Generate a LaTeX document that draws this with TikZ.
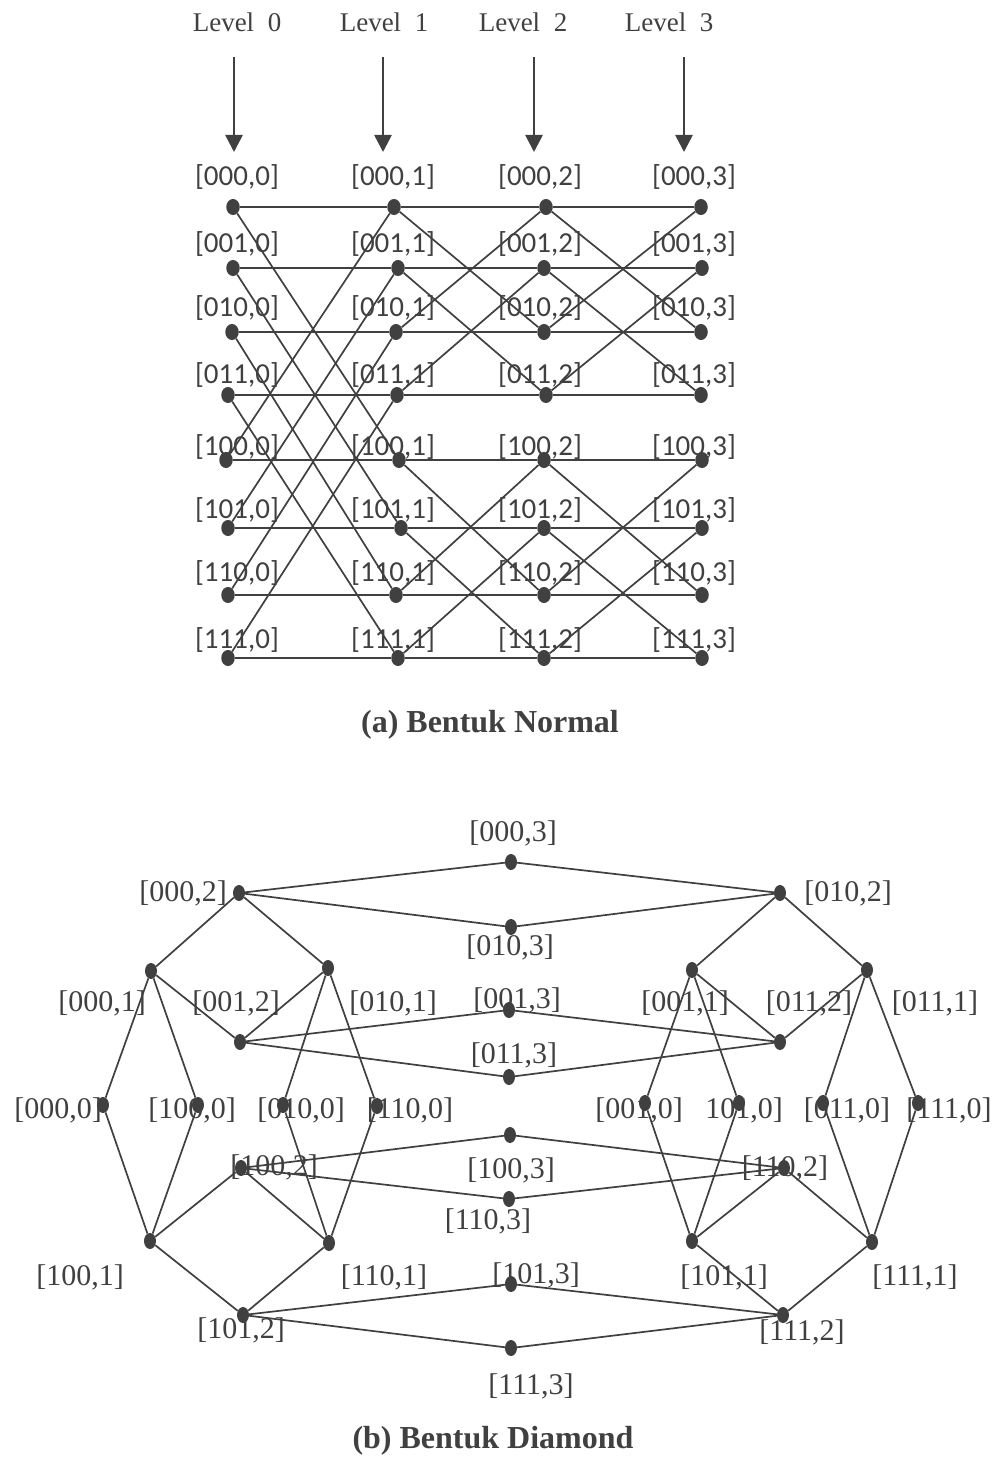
\documentclass[tikz,border=0pt]{standalone}
\usepackage{fontspec}
\setmainfont{Liberation Serif}
\newfontfamily\calib{Carlito}
\usetikzlibrary{shapes.geometric,arrows.meta}
\definecolor{ink}{HTML}{404040}
\tikzset{
  dota/.style={ellipse,fill=ink,inner sep=0pt,minimum width=13.5pt,minimum height=16pt},
  dotb/.style={ellipse,fill=ink,inner sep=0pt,minimum width=12pt,minimum height=16pt},
  lba/.style={inner sep=0pt,text=ink,font=\calib\fontsize{29}{34}\selectfont},
  lbb/.style={inner sep=0pt,text=ink,font=\fontsize{30}{36}\selectfont},
  lvl/.style={inner sep=0pt,text=ink,font=\fontsize{27}{32}\selectfont},
  capt/.style={inner sep=0pt,text=ink,font=\bfseries\fontsize{32}{38}\selectfont},
  edge/.style={draw=ink,line width=1.7pt},
  arr/.style={draw=ink,line width=2.6pt,-{Triangle[width=17pt,length=17pt]}}
}
\begin{document}
\begin{tikzpicture}[x=1pt,y=-1pt]
\fill[white] (0,0) rectangle (1001,1458);
\useasboundingbox (0,0) rectangle (1001,1458);

% ---------- (a) Bentuk Normal ----------
\node[lvl] (lv0) at (237,22) {Level~~0};
\node[lvl] (lv1) at (384,22) {Level~~1};
\node[lvl] (lv2) at (523,22) {Level~~2};
\node[lvl] (lv3) at (669,22) {Level~~3};
\coordinate (t0) at (234,57);   \coordinate (h0) at (234,152);
\coordinate (t1) at (383,57);   \coordinate (h1) at (383,152);
\coordinate (t2) at (534,57);   \coordinate (h2) at (534,152);
\coordinate (t3) at (684,57);   \coordinate (h3) at (684,152);
\draw[arr] (t0) -- (h0);
\draw[arr] (t1) -- (h1);
\draw[arr] (t2) -- (h2);
\draw[arr] (t3) -- (h3);

\foreach \r/\b/\y/\ly/\xa/\xb/\xc/\xd in {
  0/000/207/177/233/394/546/701,
  1/001/268/244/233/398/544/702,
  2/010/332/308/232/396/544/701,
  3/011/395/375/228/397/546/701,
  4/100/460/447/226/399/544/702,
  5/101/528/510/228/401/544/702,
  6/110/595/573/228/396/544/702,
  7/111/658/640/228/398/544/702}{
  \node[lba] (la\r-0) at (237,\ly) {[\b,0]};
  \node[lba] (la\r-1) at (393,\ly) {[\b,1]};
  \node[lba] (la\r-2) at (540,\ly) {[\b,2]};
  \node[lba] (la\r-3) at (694,\ly) {[\b,3]};
  \node[dota] (a\r-0) at (\xa,\y) {};
  \node[dota] (a\r-1) at (\xb,\y) {};
  \node[dota] (a\r-2) at (\xc,\y) {};
  \node[dota] (a\r-3) at (\xd,\y) {};
}
\foreach \r in {0,...,7}{
  \draw[edge] (a\r-0) -- (a\r-1) -- (a\r-2) -- (a\r-3);
}
\foreach \p/\q in {0/4,1/5,2/6,3/7}{
  \draw[edge] (a\p-0) -- (a\q-1);
  \draw[edge] (a\q-0) -- (a\p-1);
}
\foreach \p/\q in {0/2,1/3,4/6,5/7}{
  \draw[edge] (a\p-1) -- (a\q-2);
  \draw[edge] (a\q-1) -- (a\p-2);
  \draw[edge] (a\p-2) -- (a\q-3);
  \draw[edge] (a\q-2) -- (a\p-3);
}
\node[capt] (capa) at (490,725) {(a) Bentuk Normal};

% ---------- (b) Bentuk Diamond ----------
% labels
\node[lbb] (l0003) at (513,833) {[000,3]};
\node[lbb] (l0002) at (183,893) {[000,2]};
\node[lbb] (l0102) at (848,893) {[010,2]};
\node[lbb] (l0103) at (510,947) {[010,3]};
\node[lbb] (l0001) at (102,1003) {[000,1]};
\node[lbb] (l0012) at (236,1003) {[001,2]};
\node[lbb] (l0101) at (393,1003) {[010,1]};
\node[lbb] (l0013) at (517,1000) {[001,3]};
\node[lbb] (l0011) at (685,1003) {[001,1]};
\node[lbb] (l0112) at (809,1003) {[011,2]};
\node[lbb] (l0111) at (935,1003) {[011,1]};
\node[lbb] (l0113) at (514,1055) {[011,3]};
\node[lbb] (l0000) at (58,1110) {[000,0]};
\node[lbb] (l1000) at (192,1110) {[100,0]};
\node[lbb] (l0100) at (301,1110) {[010,0]};
\node[lbb] (l1100) at (410,1110) {[110,0]};
\node[lbb] (l0010) at (639,1110) {[001,0]};
\node[lbb] (l1010) at (744,1110) {101,0]};
\node[lbb] (l0110) at (847,1110) {[011,0]};
\node[lbb] (l1110) at (949,1110) {[111,0]};
\node[lbb] (l1003) at (511,1170) {[100,3]};
\node[lbb] (l1002) at (274,1167) {[100,2]};
\node[lbb] (l1102) at (785,1168) {[110,2]};
\node[lbb] (l1103) at (488,1221) {[110,3]};
\node[lbb] (l1001) at (80,1277) {[100,1]};
\node[lbb] (l1101) at (384,1277) {[110,1]};
\node[lbb] (l1011) at (724,1277) {[101,1]};
\node[lbb] (l1111) at (915,1277) {[111,1]};
\node[lbb] (l1013) at (536,1275) {[101,3]};
\node[lbb] (l1012) at (241,1330) {[101,2]};
\node[lbb] (l1112) at (802,1332) {[111,2]};
\node[lbb] (l1113) at (531,1386) {[111,3]};

% dots
\node[dotb] (b0003) at (511,862) {};
\node[dotb] (b0002) at (239,893) {};
\node[dotb] (b0102) at (780,893) {};
\node[dotb] (b0103) at (511,927) {};
\node[dotb] (b0001) at (151,971) {};
\node[dotb] (b0101) at (328,968) {};
\node[dotb] (b0012) at (240,1042) {};
\node[dotb] (b0013) at (509,1010) {};
\node[dotb] (b0113) at (509,1077) {};
\node[dotb] (b0011) at (692,970) {};
\node[dotb] (b0111) at (867,970) {};
\node[dotb] (b0112) at (780,1042) {};
\node[dotb] (b0000) at (103,1105) {};
\node[dotb] (b1000) at (198,1105) {};
\node[dotb] (b0100) at (283,1105) {};
\node[dotb] (b1100) at (377,1106) {};
\node[dotb] (b0010) at (645,1103) {};
\node[dotb] (b1010) at (739,1103) {};
\node[dotb] (b0110) at (823,1103) {};
\node[dotb] (b1110) at (918,1103) {};
\node[dotb] (b1003) at (510,1135) {};
\node[dotb] (b1002) at (241,1168) {};
\node[dotb] (b1102) at (784,1168) {};
\node[dotb] (b1103) at (509,1199) {};
\node[dotb] (b1001) at (150,1241) {};
\node[dotb] (b1101) at (329,1243) {};
\node[dotb] (b1011) at (692,1241) {};
\node[dotb] (b1111) at (872,1242) {};
\node[dotb] (b1013) at (511,1284) {};
\node[dotb] (b1012) at (243,1315) {};
\node[dotb] (b1112) at (783,1315) {};
\node[dotb] (b1113) at (511,1348) {};

% edges
\draw[edge] (b0002) -- (b0003) -- (b0102) -- (b0103) -- (b0002);
\draw[edge] (b0002) -- (b0001);
\draw[edge] (b0002) -- (b0101);
\draw[edge] (b0102) -- (b0011);
\draw[edge] (b0102) -- (b0111);
\draw[edge] (b0001) -- (b0000);
\draw[edge] (b0001) -- (b1000);
\draw[edge] (b0001) -- (b0012);
\draw[edge] (b0101) -- (b0012);
\draw[edge] (b0101) -- (b0100);
\draw[edge] (b0101) -- (b1100);
\draw[edge] (b0012) -- (b0013) -- (b0112) -- (b0113) -- (b0012);
\draw[edge] (b0011) -- (b0010);
\draw[edge] (b0011) -- (b1010);
\draw[edge] (b0011) -- (b0112);
\draw[edge] (b0111) -- (b0112);
\draw[edge] (b0111) -- (b0110);
\draw[edge] (b0111) -- (b1110);
\draw[edge] (b0000) -- (b1001);
\draw[edge] (b1000) -- (b1001);
\draw[edge] (b0100) -- (b1101);
\draw[edge] (b1100) -- (b1101);
\draw[edge] (b0010) -- (b1011);
\draw[edge] (b1010) -- (b1011);
\draw[edge] (b0110) -- (b1111);
\draw[edge] (b1110) -- (b1111);
\draw[edge] (b1001) -- (b1002);
\draw[edge] (b1101) -- (b1002);
\draw[edge] (b1011) -- (b1102);
\draw[edge] (b1111) -- (b1102);
\draw[edge] (b1002) -- (b1003) -- (b1102) -- (b1103) -- (b1002);
\draw[edge] (b1001) -- (b1012);
\draw[edge] (b1101) -- (b1012);
\draw[edge] (b1011) -- (b1112);
\draw[edge] (b1111) -- (b1112);
\draw[edge] (b1012) -- (b1013) -- (b1112) -- (b1113) -- (b1012);

\node[capt] (capb) at (493,1441) {(b) Bentuk Diamond};
\end{tikzpicture}
\end{document}
